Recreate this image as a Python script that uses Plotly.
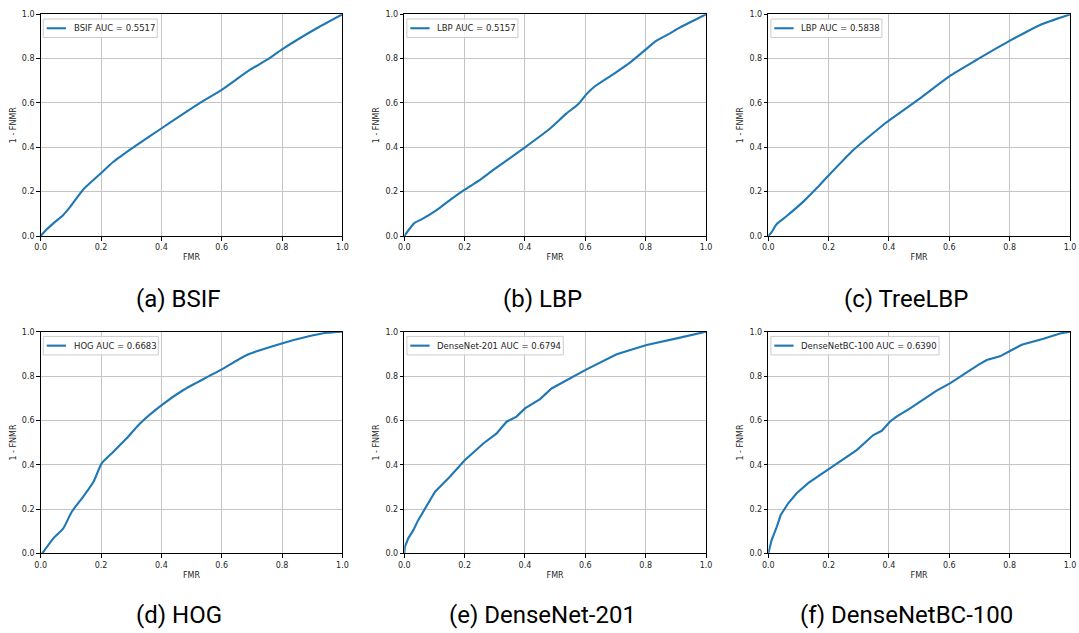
import plotly.graph_objects as go

# ROC curves (FMR vs 1 - FNMR) for six feature extractors
BSIF_FMR = [0.0, 0.02, 0.042, 0.075, 0.097, 0.141, 0.197, 0.241, 0.307, 0.401, 0.528, 0.60, 0.694, 0.749, 0.80, 0.915, 1.0]
BSIF_TPR = [0.0, 0.03, 0.057, 0.095, 0.13, 0.21, 0.28, 0.335, 0.40, 0.486, 0.60, 0.659, 0.75, 0.794, 0.842, 0.937, 1.0]

LBP_FMR = [0.0, 0.019, 0.035, 0.057, 0.107, 0.151, 0.199, 0.251, 0.295, 0.40, 0.477, 0.538, 0.577, 0.604, 0.627, 0.693, 0.748, 0.801, 0.831, 0.881, 0.914, 0.958, 1.0]
LBP_TPR = [0.0, 0.035, 0.06, 0.075, 0.117, 0.162, 0.208, 0.253, 0.298, 0.40, 0.478, 0.553, 0.595, 0.64, 0.67, 0.73, 0.782, 0.842, 0.877, 0.914, 0.941, 0.971, 1.0]

TREELBP_FMR = [0.0, 0.011, 0.028, 0.061, 0.116, 0.160, 0.199, 0.282, 0.392, 0.503, 0.602, 0.680, 0.801, 0.901, 1.0]
TREELBP_TPR = [0.0, 0.017, 0.054, 0.09, 0.155, 0.215, 0.272, 0.388, 0.513, 0.621, 0.722, 0.786, 0.881, 0.952, 1.0]

HOG_FMR = [0.005, 0.042, 0.075, 0.103, 0.141, 0.175, 0.202, 0.241, 0.285, 0.329, 0.401, 0.473, 0.55, 0.60, 0.683, 0.799, 0.882, 0.948, 1.0]
HOG_TPR = [0.0, 0.068, 0.113, 0.188, 0.256, 0.323, 0.406, 0.459, 0.519, 0.586, 0.669, 0.737, 0.794, 0.83, 0.895, 0.947, 0.977, 0.995, 1.0]

DN201_FMR = [0.0, 0.002, 0.013, 0.030, 0.046, 0.069, 0.102, 0.151, 0.201, 0.262, 0.306, 0.339, 0.372, 0.40, 0.45, 0.488, 0.538, 0.604, 0.704, 0.803, 0.903, 1.0]
DN201_TPR = [0.0, 0.03, 0.068, 0.105, 0.15, 0.203, 0.278, 0.346, 0.421, 0.496, 0.541, 0.594, 0.617, 0.654, 0.696, 0.744, 0.782, 0.83, 0.898, 0.94, 0.97, 1.0]

DNBC100_FMR = [0.0, 0.011, 0.028, 0.041, 0.066, 0.094, 0.133, 0.171, 0.199, 0.249, 0.293, 0.348, 0.376, 0.403, 0.425, 0.470, 0.503, 0.558, 0.602, 0.652, 0.696, 0.724, 0.768, 0.801, 0.840, 0.912, 0.967, 1.0]
DNBC100_TPR = [0.0, 0.06, 0.12, 0.173, 0.226, 0.271, 0.318, 0.353, 0.378, 0.427, 0.466, 0.534, 0.553, 0.594, 0.617, 0.654, 0.684, 0.734, 0.767, 0.812, 0.85, 0.872, 0.889, 0.913, 0.941, 0.968, 0.992, 1.0]

LEGEND_NAMES = ["BSIF AUC = 0.5517", "LBP AUC = 0.5157", "LBP AUC = 0.5838",
                "HOG AUC = 0.6683", "DenseNet-201 AUC = 0.6794", "DenseNetBC-100 AUC = 0.6390"]
CAPTIONS = ["(a) BSIF", "(b) LBP", "(c) TreeLBP", "(d) HOG", "(e) DenseNet-201", "(f) DenseNetBC-100"]
TICKS = [0.0, 0.2, 0.4, 0.6, 0.8, 1.0]
TICK_TEXT = ["0.0", "0.2", "0.4", "0.6", "0.8", "1.0"]

CURVES = [(BSIF_FMR, BSIF_TPR), (LBP_FMR, LBP_TPR), (TREELBP_FMR, TREELBP_TPR),
          (HOG_FMR, HOG_TPR), (DN201_FMR, DN201_TPR), (DNBC100_FMR, DNBC100_TPR)]
SMOOTH = [True, True, True, True, False, False]

W, H = 1079, 633
COL_LEFT = [40.7, 404.3, 768.3]
PLOT_W = 301.7
ROW_TOP = [14.3, 331.7]
PLOT_H = 221.7

BLUE = "#1f77b4"
FONT = "DejaVu Sans"
TXT = "#262626"
LEG_SIZE = 8.5

# DejaVu Sans advance widths (em) for sizing the legend frames
ADV = {" ": .318, ".": .318, "=": .838, "-": .361, "A": .684, "B": .686, "C": .698,
       "D": .770, "F": .575, "G": .775, "H": .752, "I": .295, "L": .557, "N": .748,
       "O": .787, "P": .603, "S": .635, "U": .732, "e": .615, "n": .634, "s": .521,
       "t": .392}


def text_width(s, size):
    return sum(ADV.get(ch, .636) for ch in s) * size


fig = go.Figure()
layout = dict(
    width=W, height=H,
    margin=dict(l=0, r=0, t=0, b=0),
    paper_bgcolor="white", plot_bgcolor="white",
    font=dict(family=FONT, size=8, color=TXT),
    showlegend=False,
    annotations=[], shapes=[],
)

for i, ((fx, ty), name, cap) in enumerate(zip(CURVES, LEGEND_NAMES, CAPTIONS)):
    r, c = divmod(i, 3)
    n = "" if i == 0 else str(i + 1)
    left = COL_LEFT[c]
    top = ROW_TOP[r]
    x0, x1 = left / W, (left + PLOT_W) / W
    y1, y0 = 1 - top / H, 1 - (top + PLOT_H) / H

    line = dict(color=BLUE, width=2.1)
    if SMOOTH[i]:
        line.update(shape="spline", smoothing=0.5)
    fig.add_trace(go.Scatter(
        x=fx, y=ty, mode="lines", name=name, line=line,
        xaxis="x" + n, yaxis="y" + n,
    ))

    axis_common = dict(
        range=[0, 1], tickvals=TICKS, ticktext=TICK_TEXT,
        showgrid=True, gridcolor="#c4c4c4", gridwidth=1,
        showline=True, linecolor="black", linewidth=1, mirror=True,
        ticks="outside", ticklen=3.5, tickwidth=1, tickcolor="black",
        tickfont=dict(family=FONT, size=8, color=TXT),
        zeroline=False, fixedrange=True, automargin=False,
    )
    layout["xaxis" + n] = dict(
        axis_common, domain=[x0, x1], anchor="y" + n,
        title=dict(text="FMR", font=dict(family=FONT, size=8, color=TXT), standoff=3),
    )
    layout["yaxis" + n] = dict(
        axis_common, domain=[y0, y1], anchor="x" + n,
        title=dict(text="1 - FNMR", font=dict(family=FONT, size=8, color=TXT), standoff=4),
    )

    # legend frame, swatch and label drawn inside the top-left corner of the axes
    bx0 = left + 2.6
    by0 = top + 4.7
    bw = 28.4 + text_width(name, LEG_SIZE) + 4
    bh = 18.5
    ymid = by0 + bh / 2
    layout["shapes"].append(dict(
        type="rect", xref="paper", yref="paper",
        x0=bx0 / W, x1=(bx0 + bw) / W, y0=1 - by0 / H, y1=1 - (by0 + bh) / H,
        line=dict(color="#cccccc", width=1), fillcolor="rgba(255,255,255,0.8)",
        layer="above",
    ))
    layout["shapes"].append(dict(
        type="line", xref="paper", yref="paper",
        x0=(bx0 + 3.4) / W, x1=(bx0 + 22.7) / W, y0=1 - ymid / H, y1=1 - ymid / H,
        line=dict(color=BLUE, width=2.1), layer="above",
    ))
    layout["annotations"].append(dict(
        text=name, xref="paper", yref="paper",
        x=(bx0 + 28.4) / W, y=1 - ymid / H,
        xanchor="left", yanchor="middle", showarrow=False,
        font=dict(family=FONT, size=LEG_SIZE, color=TXT),
    ))

    layout["annotations"].append(dict(
        text=cap, xref="paper", yref="paper",
        x=(left + 138) / W, y=1 - (299 if r == 0 else 615) / H,
        xanchor="center", yanchor="middle", showarrow=False,
        font=dict(family="Roboto", size=24, color="black"),
    ))

fig.update_layout(**layout)
fig.write_html("out.html")
